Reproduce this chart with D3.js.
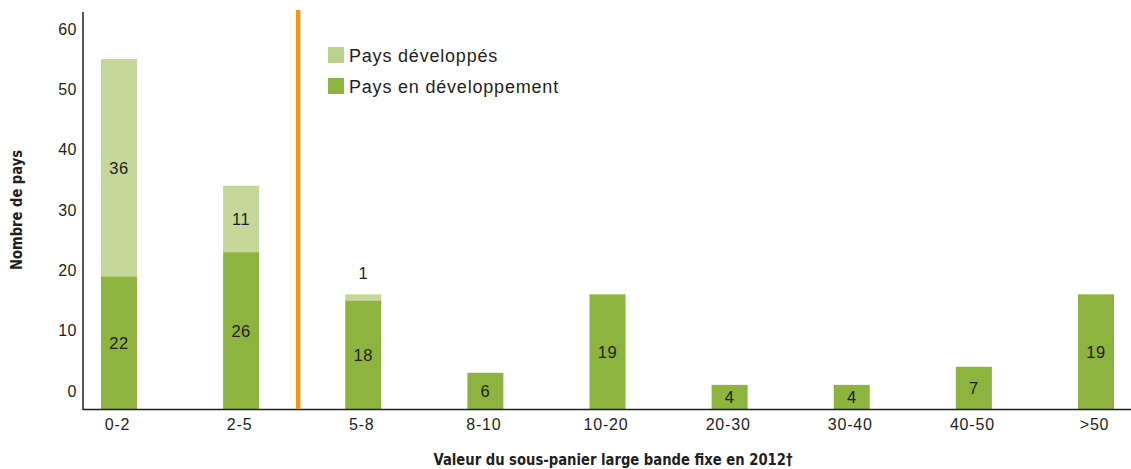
<!DOCTYPE html>
<html>
<head>
<meta charset="utf-8">
<script src="https://cdn.jsdelivr.net/npm/d3@7"></script>
<style>
  body { margin: 0; background: #fff; }
  text { font-family: "Liberation Sans", Arial, sans-serif; fill: #231f20; }
  .title { font-family: "DejaVu Sans Condensed", "DejaVu Sans", sans-serif; font-weight: bold; font-stretch: condensed; }
</style>
</head>
<body>
<div id="chart"></div>
<script>
'use strict';

// data
const categories = ["0-2", "2-5", "5-8", "8-10", "10-20", "20-30", "30-40", "40-50", ">50"];
const developing = [22, 26, 18, 6, 19, 4, 4, 7, 19];
const developed  = [36, 11, 1, 0, 0, 0, 0, 0, 0];
const yTicks = [0, 10, 20, 30, 40, 50, 60];
const legendLabels = ["Pays développés", "Pays en développement"];

const colDark = "#8db43e", colLight = "#c5d799", colOrange = "#f29711";

const width = 1131, height = 469;
const baseY = 409, axisX = 83;

const svg = d3.select("#chart").append("svg")
  .attr("width", width)
  .attr("height", height);

let x = d3.scalePoint()
  .domain(categories)
  .range([119, 1096]);

let y = d3.scaleLinear()
  .domain([0, 60])
  .range([baseY, baseY - 362]);

const barW = 36;

// stacked rows
let rows = categories.map((c, i) => ({ cat: c, dev: developing[i], devd: developed[i] }));

// developing (bottom)
svg.append("g").selectAll("rect")
  .data(rows)
  .enter()
  .append("rect")
  .attr("x", d => x(d.cat) - barW / 2)
  .attr("y", d => y(d.dev))
  .attr("width", barW)
  .attr("height", d => y(0) - y(d.dev))
  .style("fill", colDark);

// developed (top)
svg.append("g").selectAll("rect")
  .data(rows.filter(d => d.devd > 0))
  .enter()
  .append("rect")
  .attr("x", d => x(d.cat) - barW / 2)
  .attr("y", d => y(d.dev + d.devd))
  .attr("width", barW)
  .attr("height", d => y(d.dev) - y(d.dev + d.devd))
  .style("fill", colLight);

// value labels
svg.append("g").selectAll("text")
  .data(rows)
  .enter()
  .append("text")
  .attr("x", d => x(d.cat))
  .attr("y", d => (y(0) + y(d.dev)) / 2)
  .attr("dy", "0.36em")
  .attr("text-anchor", "middle")
  .style("font-size", "16.5px")
  .style("letter-spacing", "0.5px")
  .text(d => d.dev);

svg.append("g").selectAll("text")
  .data(rows.filter(d => d.devd > 0))
  .enter()
  .append("text")
  .attr("x", d => x(d.cat))
  .attr("y", d => d.devd > 2 ? (y(d.dev) + y(d.dev + d.devd)) / 2 : y(d.dev + d.devd) - 21)
  .attr("dy", "0.36em")
  .attr("text-anchor", "middle")
  .style("font-size", "16.5px")
  .style("letter-spacing", "0.5px")
  .text(d => d.devd);

// y axis labels (printed a bit above their grid value, as in the source)
let yAxis = svg.append("g")
  .attr("transform", "translate(" + (axisX - 6) + "," + (y(3) - y(0)) + ")")
  .call(d3.axisLeft(y).tickValues(yTicks).tickSize(0).tickPadding(0));
yAxis.select(".domain").remove();
yAxis.selectAll("text")
  .style("font-size", "16px")
  .style("font-family", "Liberation Sans, Arial, sans-serif")
  .style("letter-spacing", "0.5px")
  .style("fill", "#231f20");

// x axis labels
let xAxis = svg.append("g")
  .attr("transform", "translate(-2," + baseY + ")")
  .call(d3.axisBottom(x).tickSize(0).tickPadding(10));
xAxis.select(".domain").remove();
xAxis.selectAll("text")
  .style("font-size", "16px")
  .style("font-family", "Liberation Sans, Arial, sans-serif")
  .style("letter-spacing", "0.8px")
  .style("fill", "#231f20");

// axis lines
svg.append("line")
  .attr("x1", axisX).attr("x2", axisX)
  .attr("y1", 12).attr("y2", baseY + 1)
  .style("stroke", "#231f20").style("stroke-width", 1.5);
svg.append("line")
  .attr("x1", axisX).attr("x2", width)
  .attr("y1", baseY + 0.5).attr("y2", baseY + 0.5)
  .style("stroke", "#231f20").style("stroke-width", 1.5);

// orange separator between 2-5 and 5-8
const sepX = (x("2-5") + x("5-8")) / 2 - 4;
svg.append("line")
  .attr("x1", sepX).attr("x2", sepX)
  .attr("y1", 10).attr("y2", baseY)
  .style("stroke", colOrange).style("stroke-width", 4.5);

// legend
let legend = svg.append("g").attr("transform", "translate(328,47)");
legend.selectAll("rect")
  .data(legendLabels)
  .enter()
  .append("rect")
  .attr("x", 0)
  .attr("y", (d, i) => i * 31)
  .attr("width", 16)
  .attr("height", 16)
  .style("fill", (d, i) => i == 0 ? "#bbd18a" : colDark);
legend.selectAll("text")
  .data(legendLabels)
  .enter()
  .append("text")
  .attr("x", 21)
  .attr("y", (d, i) => i * 31 + 15)
  .style("font-size", "18px")
  .style("letter-spacing", "0.8px")
  .text(d => d);

// axis titles
svg.append("text")
  .attr("class", "title")
  .attr("x", 613)
  .attr("y", 465)
  .attr("text-anchor", "middle")
  .attr("textLength", 359)
  .attr("lengthAdjust", "spacingAndGlyphs")
  .style("font-size", "15px")
  .text("Valeur du sous-panier large bande fixe en 2012†");

svg.append("text")
  .attr("class", "title")
  .attr("transform", "translate(22,210) rotate(-90)")
  .attr("text-anchor", "middle")
  .attr("textLength", 120)
  .attr("lengthAdjust", "spacingAndGlyphs")
  .style("font-size", "15px")
  .text("Nombre de pays");
</script>
</body>
</html>
